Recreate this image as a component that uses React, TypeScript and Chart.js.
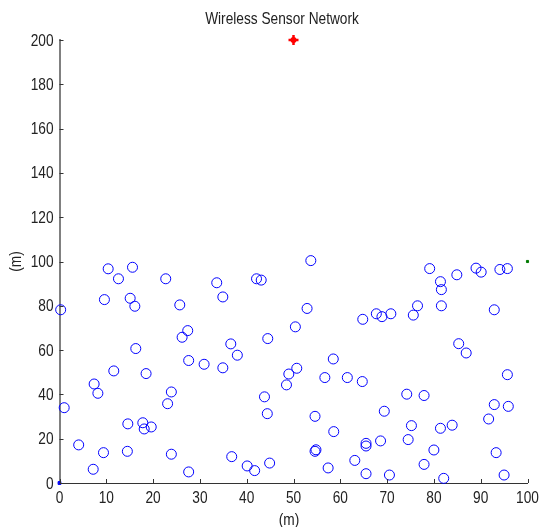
import React, { useEffect, useRef } from "react";
import { Chart, registerables } from "chart.js";

Chart.register(...registerables);

const chartTitle = "Wireless Sensor Network";
const xAxisLabel = "(m)";
const yAxisLabel = "(m)";
const xTicks = [0, 10, 20, 30, 40, 50, 60, 70, 80, 90, 100];
const yTicks = [0, 20, 40, 60, 80, 100, 120, 140, 160, 180, 200];

const nodeX = [
  10.4, 15.6, 12.6, 22.7, 9.6, 15.1, 16.1, 0.25, 25.7, 33.6, 34.9, 42.1, 43.1, 27.4, 26.2, 44.5, 16.3, 36.6, 38.0, 27.6, 30.9, 34.9,
  53.7, 79.1, 84.9, 89.0, 90.1, 94.1, 95.7, 81.4, 81.6, 81.6, 76.5, 75.6, 92.9, 52.9, 50.4, 64.8, 67.7, 68.9, 70.8, 85.3, 86.9, 58.5,
  11.6, 18.5, 7.4, 8.2, 1.0, 23.9, 23.1, 14.6, 17.8, 18.1, 19.6, 4.1, 9.4, 14.5, 23.9, 7.2, 27.6, 36.8, 40.1, 41.7, 44.9, 43.8, 44.4,
  50.7, 49.0, 48.5, 56.7, 61.5, 64.7, 95.7, 74.2, 77.9, 92.9, 95.9, 69.4, 54.6, 91.7, 75.2, 81.4, 83.9, 58.6, 68.6, 74.5, 65.5, 65.5,
  54.8, 54.6, 80.0, 93.3, 63.1, 77.9, 57.4, 65.5, 70.5, 82.1, 95.0,
];
const nodeY = [
  96.7, 97.4, 92.2, 92.2, 82.8, 83.4, 79.8, 78.2, 80.4, 90.4, 84.0, 92.2, 91.6, 68.8, 65.8, 65.2, 60.7, 62.8, 57.7, 55.3, 53.6, 52.0,
  100.4, 96.8, 94.0, 97.0, 95.2, 96.4, 96.8, 90.9, 87.3, 80.0, 80.0, 75.8, 78.2, 78.8, 70.5, 73.9, 76.4, 75.1, 76.4, 62.9, 58.7, 56.0,
  50.6, 49.4, 44.7, 40.5, 34.0, 41.1, 35.8, 26.7, 27.2, 24.4, 25.3, 17.2, 13.7, 14.3, 13.0, 6.2, 5.0, 11.9, 7.7, 5.6, 9.0, 38.9, 31.3,
  51.8, 49.2, 44.3, 47.6, 47.6, 45.8, 48.9, 40.1, 39.5, 35.4, 34.6, 32.4, 30.1, 28.9, 25.9, 24.7, 26.1, 23.2, 19.0, 19.6, 17.9, 16.7,
  15.0, 14.3, 14.9, 13.7, 10.2, 8.4, 6.8, 4.2, 3.6, 2.1, 3.6,
];
const sinkX = [50];
const sinkY = [200];
const greenX = [100];
const greenY = [100];
const originX = [0];
const originY = [0];

const FONT = "'Liberation Sans', Arial, sans-serif";
const SQUEEZE = 0.83;

function squeezedText(ctx: any, text: string, x: number, y: number, align: string) {
  ctx.save();
  ctx.translate(x, y);
  ctx.scale(SQUEEZE, 1);
  ctx.textAlign = align;
  ctx.fillText(text, 0, 0);
  ctx.restore();
}

const matlabPlugin = {
  id: "matlabAxes",
  afterDraw(chart: any) {
    const { ctx, chartArea, scales } = chart;
    const xs = scales.x;
    const ys = scales.y;
    ctx.save();
    ctx.strokeStyle = "#333333";
    ctx.lineWidth = 1;
    ctx.beginPath();
    xTicks.forEach((v) => {
      const px = Math.round(xs.getPixelForValue(v)) + 0.5;
      ctx.moveTo(px, chartArea.bottom);
      ctx.lineTo(px, chartArea.bottom - 4);
    });
    yTicks.forEach((v) => {
      const py = Math.round(ys.getPixelForValue(v)) + 0.5;
      ctx.moveTo(chartArea.left, py);
      ctx.lineTo(chartArea.left + 4, py);
    });
    ctx.stroke();

    ctx.fillStyle = "#222222";
    ctx.textBaseline = "middle";
    ctx.font = `16.5px ${FONT}`;
    xTicks.forEach((v) => {
      squeezedText(ctx, String(v), xs.getPixelForValue(v), chartArea.bottom + 15, "center");
    });
    yTicks.forEach((v) => {
      squeezedText(ctx, String(v), chartArea.left - 6, ys.getPixelForValue(v) + 1, "right");
    });
    squeezedText(ctx, chartTitle, 282, 19.5, "center");
    squeezedText(ctx, xAxisLabel, 289, 520, "center");

    ctx.save();
    ctx.translate(16, (chartArea.top + chartArea.bottom) / 2);
    ctx.rotate(-Math.PI / 2);
    ctx.scale(SQUEEZE, 1);
    ctx.textAlign = "center";
    ctx.fillText(yAxisLabel, 0, 0);
    ctx.restore();

    ctx.restore();
  },
};

export default function App() {
  const ref = useRef<HTMLCanvasElement | null>(null);
  useEffect(() => {
    if (!ref.current) return;
    const toPts = (xa: number[], ya: number[]) => xa.map((x, i) => ({ x, y: ya[i] }));
    const chart = new Chart(ref.current, {
      type: "scatter",
      data: {
        datasets: [
          {
            data: toPts(nodeX, nodeY),
            pointStyle: "circle",
            pointRadius: 5,
            pointBorderWidth: 1,
            borderColor: "#0000ff",
            backgroundColor: "rgba(0,0,0,0)",
            clip: false,
          } as any,
          {
            data: toPts(sinkX, sinkY),
            pointStyle: "cross",
            pointRadius: 5,
            pointBorderWidth: 2.5,
            borderColor: "#ff0000",
            backgroundColor: "#ff0000",
            clip: false,
          } as any,
          {
            data: toPts(sinkX, sinkY),
            pointStyle: "circle",
            pointRadius: 3,
            pointBorderWidth: 0,
            borderColor: "#ff0000",
            backgroundColor: "#ff0000",
            clip: false,
          } as any,
          {
            data: toPts(greenX, greenY),
            pointStyle: "rect",
            pointRadius: 1.5,
            pointBorderWidth: 1,
            borderColor: "#007a00",
            backgroundColor: "#007a00",
            clip: false,
          } as any,
          {
            data: toPts(originX, originY),
            pointStyle: "rect",
            pointRadius: 2,
            pointBorderWidth: 1,
            borderColor: "#0000ff",
            backgroundColor: "#0000ff",
            clip: false,
          } as any,
        ],
      },
      options: {
        responsive: false,
        animation: false,
        layout: { padding: { top: 40, right: 12.5, left: 0, bottom: 0 } },
        plugins: {
          legend: { display: false },
          tooltip: { enabled: false },
          title: { display: false },
        },
        scales: {
          x: {
            type: "linear",
            min: 0,
            max: 100,
            afterFit: (s: any) => {
              s.height = 44;
              s.paddingLeft = 0;
              s.paddingRight = 0;
            },
            afterBuildTicks: (s: any) => {
              s.ticks = xTicks.map((v) => ({ value: v }));
            },
            grid: { display: true, drawOnChartArea: false, drawTicks: false },
            border: { display: true, color: "#333333", width: 1 },
            ticks: { display: false },
            title: { display: false },
          },
          y: {
            type: "linear",
            min: 0,
            max: 200,
            afterFit: (s: any) => {
              s.width = 59.5;
              s.paddingTop = 0;
              s.paddingBottom = 0;
            },
            afterBuildTicks: (s: any) => {
              s.ticks = yTicks.map((v) => ({ value: v }));
            },
            grid: { display: true, drawOnChartArea: false, drawTicks: false },
            border: { display: true, color: "#808080", width: 2 },
            ticks: { display: false },
            title: { display: false },
          },
        },
      },
      plugins: [matlabPlugin],
    });
    return () => chart.destroy();
  }, []);
  return (
    <div style={{ position: "fixed", left: 0, top: 0, width: 540, height: 527, background: "#ffffff" }}>
      <canvas ref={ref} width={540} height={527} style={{ width: 540, height: 527, display: "block" }} />
    </div>
  );
}
